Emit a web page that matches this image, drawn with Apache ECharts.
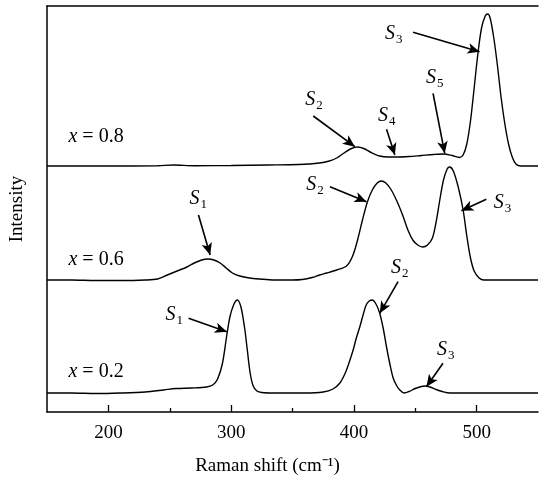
<!DOCTYPE html>
<html>
<head>
<meta charset="utf-8">
<script src="https://cdn.jsdelivr.net/npm/echarts@6/dist/echarts.min.js"></script>
<style>
  html, body { margin: 0; padding: 0; background: #fff; }
  #chart { width: 539px; height: 484px; }
</style>
</head>
<body>
<div id="chart"></div>
<script>
// Raman spectra, [shift, intensity above own baseline]
const spec02 = [
  [150, 0], [170, 0], [190, -0.5], [210, 0], [230, 1], [245, 3], [255, 4.5], [268, 5], [280, 6],
  [285, 8], [289, 14], [293, 30], [296.5, 58], [299, 76], [302, 88], [305, 93], [308, 86],
  [311, 65], [313, 45], [315.5, 20], [318, 7], [321, 2], [325, 0.5], [335, 0], [360, 0],
  [375, 1], [383, 4], [388.6, 10], [393, 20], [396, 30], [399.4, 43], [402, 55], [404.8, 66],
  [407.5, 78], [410, 88], [412.5, 92], [415, 93], [418, 89], [421, 80], [424, 64], [426.6, 46],
  [429.5, 28], [432, 15], [435, 7], [437.5, 3], [441, 0], [445, 1.5], [450, 4.5], [455, 6.5],
  [458, 7], [462, 6], [467, 3.5], [472, 1.5], [478, 0], [500, 0], [550, 0]
];
const spec06 = [
  [150, 0], [170, 0], [190, -0.5], [210, -0.5], [230, 0], [240, 1], [248, 5], [256, 9], [264, 13],
  [270, 17], [276, 20], [281, 21], [286, 20], [291, 17], [296, 12], [301, 7], [307, 4], [315, 2],
  [323, 1], [335, 0], [350, 0], [358, 0.5], [366, 2.5], [372, 5], [378, 7], [386, 10], [394, 14],
  [399, 24], [403, 40], [407, 60], [411, 78], [415, 90], [419, 97], [422.5, 99], [426, 97],
  [430, 91], [435, 79], [440, 64], [444, 50], [448, 40], [452, 35], [456, 33], [460, 35],
  [464, 42], [467, 58], [470, 80], [473, 100], [476, 111], [478, 113], [481, 109], [485, 93],
  [489, 70], [492, 44], [495, 22], [498, 9], [502, 2], [506, 0], [550, 0]
];
const spec08 = [
  [150, 0], [200, 0], [240, 0.3], [253, 1], [270, 0.3], [300, 0.5], [330, 1], [355, 1.5],
  [372, 3], [380, 5], [386, 8], [392, 13], [398, 17.5], [403, 19], [408, 17.5], [414, 13.5],
  [421, 10], [428, 9], [435, 9], [445, 9.5], [455, 10.5], [465, 11.5], [473, 12], [480, 10.5],
  [486, 8.5], [489, 11], [492, 22], [495, 45], [498, 78], [501, 112], [504, 138], [507, 150],
  [509, 152], [511, 148], [514, 128], [517, 100], [520, 68], [523, 42], [526, 22], [529, 9],
  [532, 2], [536, 0], [550, 0]
];
const spectra = [spec02, spec06, spec08];
const offsets = [19, 132, 246];
const sampleNames = ['x = 0.2', 'x = 0.6', 'x = 0.8'];
const sampleLabelAt = [[167.5, 40], [167.5, 152], [167.5, 275]];

const majorTicks = [200, 300, 400, 500];
const minorTicks = [250, 350, 450];

// peak annotations: label [shift, y], arrow start, arrow tip
const peakNames = ['3', '5', '4', '2', '2', '3', '1', '1', '2', '3'];
const peakLabelAt = [
  [432.5, 378], [465.9, 334], [426.8, 296], [367.5, 312], [368.3, 227],
  [521.1, 209], [273.2, 213], [253.7, 97], [437.4, 144], [474.8, 62]
];
const arrowFrom = [
  [448.2, 379.7], [464.5, 318.7], [426.6, 282.7], [366.9, 296], [380.5, 225.3],
  [507.9, 212.7], [273.4, 197], [265.3, 93.7], [436, 130.3], [472.6, 48.7]
];
const arrowTo = [
  [502.4, 360.3], [474, 258.7], [433.4, 257], [400.8, 265.3], [410.3, 210.3],
  [487.6, 201.3], [282.9, 157], [296.5, 80.3], [421.1, 98.7], [459.1, 25.3]
];

const FONT = 'Liberation Serif';
const chart = echarts.init(document.getElementById('chart'));

const lineSeries = spectra.map((s, i) => ({
  type: 'line',
  data: s.map(p => [p[0], p[1] + offsets[i]]),
  showSymbol: false,
  smooth: 0.3,
  lineStyle: { color: '#000', width: 1.4 },
  silent: true
}));

const arrows = {
  type: 'line',
  data: [],
  silent: true,
  markLine: {
    silent: true,
    symbol: ['none', 'arrow'],
    symbolSize: [8, 12],
    label: { show: false },
    lineStyle: { color: '#000', width: 1.6, type: 'solid' },
    data: arrowFrom.map((a, i) => [{ coord: a }, { coord: arrowTo[i] }])
  }
};

const peakLabels = {
  type: 'scatter',
  symbolSize: 0,
  silent: true,
  itemStyle: { opacity: 1 },
  data: peakLabelAt.map((p, i) => ({ value: p, name: peakNames[i] })),
  label: {
    show: true,
    position: 'inside',
    formatter: p => '{s|S}{n|' + p.name + '}',
    rich: {
      s: { fontFamily: FONT, fontStyle: 'italic', fontSize: 20, color: '#000', lineHeight: 24 },
      n: { fontFamily: FONT, fontSize: 13, color: '#000', verticalAlign: 'bottom', lineHeight: 14, padding: [10, 0, 0, 1] }
    }
  }
};

const sampleLabels = {
  type: 'scatter',
  symbolSize: 0,
  silent: true,
  itemStyle: { opacity: 1 },
  data: sampleLabelAt.map((p, i) => ({ value: p, name: sampleNames[i] })),
  label: {
    show: true,
    position: 'right',
    distance: 0,
    formatter: p => '{i|x}{t|' + p.name.slice(1) + '}',
    rich: {
      i: { fontFamily: FONT, fontStyle: 'italic', fontSize: 20, color: '#000' },
      t: { fontFamily: FONT, fontSize: 20, color: '#000' }
    }
  }
};

chart.setOption({
  animation: false,
  grid: { left: 46, right: 1, top: 6, bottom: 72 },
  xAxis: [{
    type: 'value',
    min: 150,
    max: 550,
    name: 'Raman shift (cm\u207B\u00B9)',
    nameLocation: 'middle',
    nameGap: 45,
    nameTextStyle: { fontFamily: FONT, fontSize: 19, color: '#000', padding: [0, 50, 0, 0] },
    axisLine: { lineStyle: { color: '#000', width: 1.5 } },
    axisTick: { inside: true, length: 7, customValues: majorTicks, lineStyle: { color: '#000', width: 1.3 } },
    axisLabel: { fontFamily: FONT, fontSize: 19, color: '#000', margin: 12, customValues: majorTicks },
    splitLine: { show: false }
  }, {
    type: 'value',
    position: 'bottom',
    min: 150,
    max: 550,
    axisLine: { show: false },
    axisTick: { inside: true, length: 4, customValues: minorTicks, lineStyle: { color: '#000', width: 1.3 } },
    axisLabel: { show: false },
    splitLine: { show: false }
  }, {
    type: 'value',
    position: 'top',
    min: 150,
    max: 550,
    axisLine: { show: true, lineStyle: { color: '#000', width: 1.5 } },
    axisTick: { show: false },
    axisLabel: { show: false },
    splitLine: { show: false }
  }],
  yAxis: {
    type: 'value',
    min: 0,
    max: 406,
    name: 'Intensity',
    nameLocation: 'middle',
    nameGap: 20,
    nameTextStyle: { fontFamily: FONT, fontSize: 19, color: '#000' },
    axisLine: { show: true, lineStyle: { color: '#000', width: 1.5 } },
    axisTick: { show: false },
    axisLabel: { show: false },
    splitLine: { show: false }
  },
  series: [...lineSeries, arrows, peakLabels, sampleLabels]
});
</script>
</body>
</html>
